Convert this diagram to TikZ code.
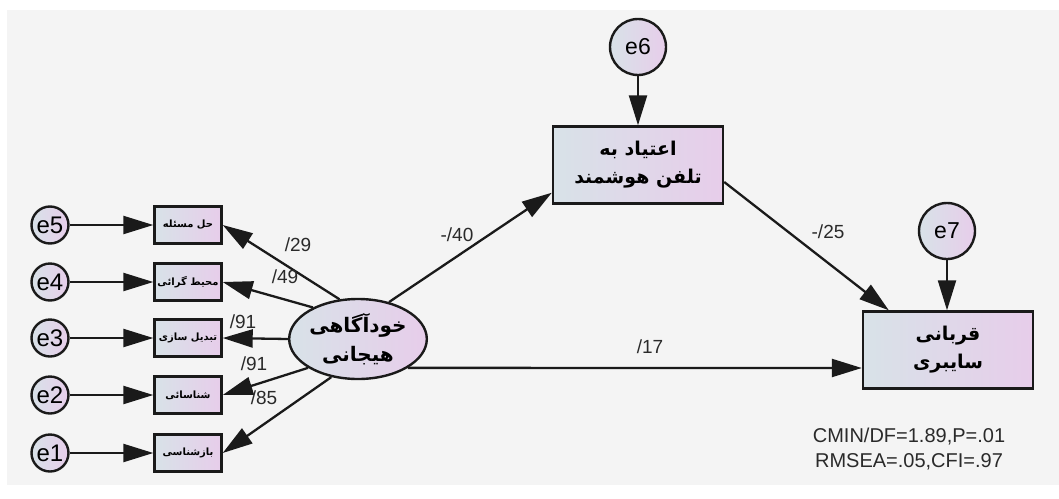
\documentclass[tikz,border=0pt]{standalone}
\usepackage{fontspec}
\setmainfont{Liberation Sans}
\newfontfamily\arabicfont[Script=Arabic]{DejaVu Sans}
\TeXXeTstate=1
\usetikzlibrary{shapes.geometric,arrows.meta,calc}
\definecolor{bg}{HTML}{F4F4F4}
\definecolor{fillL}{HTML}{D8E2E8}
\definecolor{fillR}{HTML}{E7CDEA}
\definecolor{ink}{HTML}{1A1A1A}
\definecolor{txt}{HTML}{2A2A2A}
\begin{document}
\begin{tikzpicture}[x=1pt,y=-1pt,
  shaded/.style={draw=ink, line width=2.4pt, left color=fillL, right color=fillR, inner sep=0pt, align=center},
  errnode/.style={shaded, circle, minimum size=37pt, font=\fontsize{24}{24}\selectfont},
  bigerr/.style={shaded, circle, minimum size=56pt, font=\fontsize{23}{23}\selectfont},
  smallbox/.style={shaded, rectangle, minimum width=67pt, minimum height=37pt, font=\arabicfont\bfseries\fontsize{10}{11}\selectfont},
  bigbox/.style={shaded, rectangle, minimum width=170pt, minimum height=77pt, font=\arabicfont\bfseries\fontsize{19}{28}\selectfont},
  latent/.style={shaded, ellipse, minimum width=133pt, minimum height=80pt, font=\arabicfont\bfseries\fontsize{20}{29}\selectfont},
  arr/.style={draw=ink, line width=2.3pt, -{Triangle[length=30pt,width=18pt]}},
  lab/.style={font=\fontsize{19}{19}\selectfont, text=txt, inner sep=0pt},
  fitlab/.style={font=\fontsize{20}{25}\selectfont, text=txt, align=center, inner sep=0pt}
]
\useasboundingbox (0,0) rectangle (1059,498);
\fill[white] (0,0) rectangle (1059,498);
\fill[bg] (7,10) rectangle (1059,485);

% error terms of indicators
\node[errnode] (e5) at (50,225) {e5};
\node[errnode] (e4) at (50,282) {e4};
\node[errnode] (e3) at (50,338) {e3};
\node[errnode] (e2) at (50,395) {e2};
\node[errnode] (e1) at (50,453) {e1};

% indicators
\node[smallbox] (b5) at (188,225) {\beginR حل مسئله\endR};
\node[smallbox] (b4) at (188,282) {\beginR محیط گرائی\endR};
\node[smallbox] (b3) at (188,338) {\beginR تبدیل سازی\endR};
\node[smallbox] (b2) at (188,395) {\beginR شناسائی\endR};
\node[smallbox] (b1) at (188,453) {\beginR بازشناسی\endR};

% latent
\node[latent] (ell) at (358,339) {\beginR خودآگاهی\endR\\\beginR هیجانی\endR};

% big boxes
\node[bigbox] (B1) at (638,165) {\beginR اعتیاد به\endR\\\beginR تلفن هوشمند\endR};
\node[bigbox] (B2) at (948,350) {\beginR قربانی\endR\\\beginR سایبری\endR};

\node[bigerr] (e6) at (638,47) {e6};
\node[bigerr] (e7) at (947,231) {e7};

% arrows from errors
\foreach \i in {1,...,5} \draw[arr] (e\i) -- (b\i);
\draw[arr] (e6) -- (B1);
\draw[arr] (e7) -- (e7 |- B2.north);

% loadings
\draw[arr] (ell.115) -- (b5.east);
\draw[arr] (ell.145) -- (b4.east);
\draw[arr] (ell.west) -- (b3.east);
\draw[arr] (ell.210) -- (b2.east);
\draw[arr] (ell.235) -- (b1.east);

% structural paths
\draw[arr] (ell.50) -- ($(B1.south west)+(0,-12)$);
\draw[arr] (ell.330) -- ($(B2.west)+(0,18)$);
\draw[arr] ($(B1.east)+(0,17)$) -- ($(B2.north west)+(27,0)$);

% labels
\node[lab] (l29) at (298,245) {/29};
\node[lab] (l49) at (285,277) {/49};
\node[lab] (l91a) at (243,322) {/91};
\node[lab] (l91b) at (254,364) {/91};
\node[lab] (l85) at (264,398) {/85};
\node[lab] (l40) at (457,235) {-/40};
\node[lab] (l25) at (828,232) {-/25};
\node[lab] (l17) at (650,347) {/17};

\node[fitlab] (fit) at (909,449) {CMIN/DF=1.89,P=.01\\RMSEA=.05,CFI=.97};
\end{tikzpicture}
\end{document}
